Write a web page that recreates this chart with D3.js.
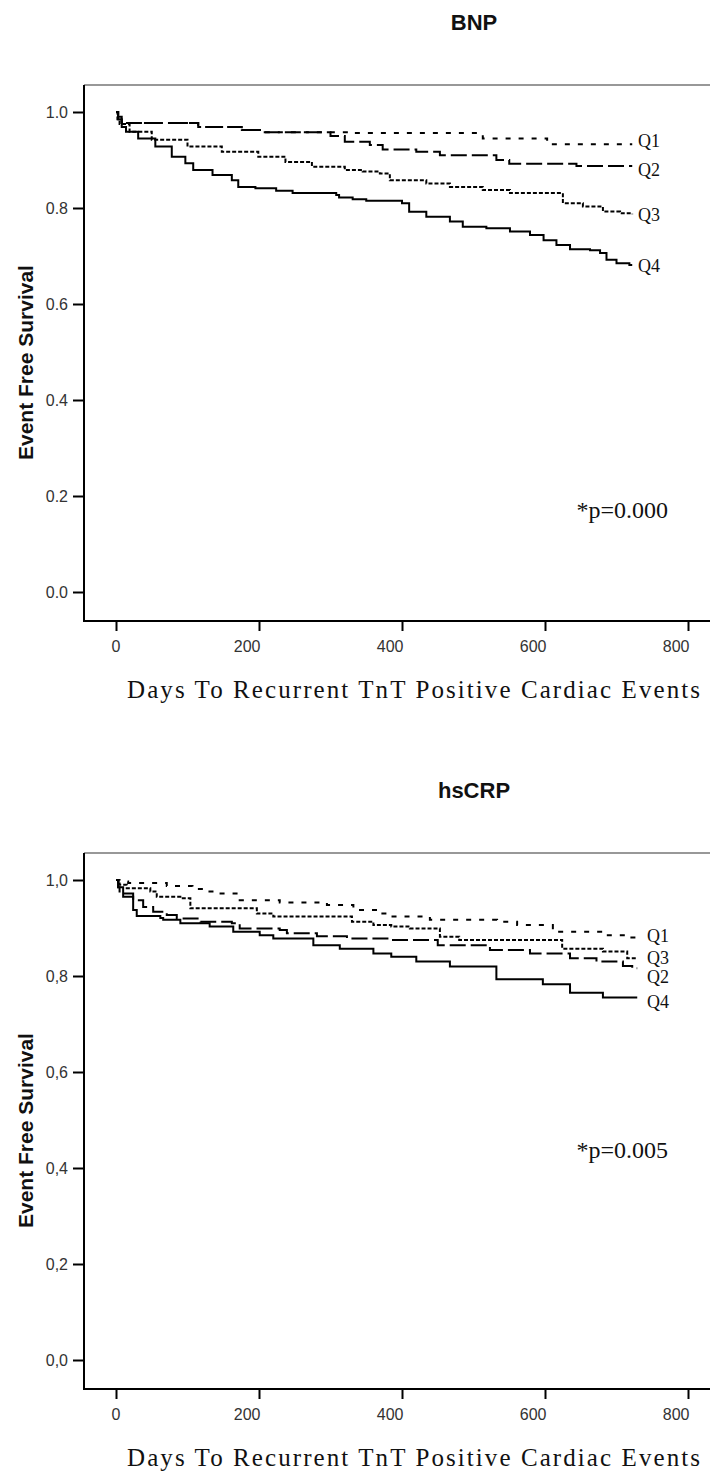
<!DOCTYPE html>
<html><head><meta charset="utf-8">
<script src="https://cdn.jsdelivr.net/npm/d3@7/dist/d3.min.js"></script>
<style>body{margin:0;background:#fff}svg{display:block}</style>
</head><body>
<svg id="c" width="710" height="1475"></svg>
<script>
// ---- data (day, event-free survival) ----
const seriesNames = ["Q1", "Q2", "Q3", "Q4"];

const bnpQ1 = [[0,1],[3,0.99],[8,0.977],[115,0.969],[176,0.9625],[208,0.958],[330,0.956],[513,0.945],[603,0.933],[722,0.933]];
const bnpQ2 = [[0,1],[3,0.99],[8,0.977],[115,0.969],[176,0.9625],[208,0.958],[300,0.95],[320,0.938],[355,0.931],[373,0.922],[420,0.917],[453,0.91],[532,0.9],[550,0.892],[644,0.8875],[722,0.8875]];
const bnpQ3 = [[0,1],[2,0.985],[5,0.975],[19,0.959],[50,0.942],[100,0.928],[148,0.917],[199,0.907],[237,0.896],[274,0.886],[320,0.879],[345,0.876],[369,0.872],[383,0.858],[434,0.851],[467,0.844],[513,0.8375],[551,0.831],[625,0.81],[653,0.803],[681,0.7925],[705,0.789],[722,0.787]];
const bnpQ4 = [[0,1],[3,0.985],[8,0.969],[14,0.959],[31,0.945],[55,0.928],[78,0.907],[97,0.893],[108,0.879],[135,0.869],[162,0.858],[171,0.844],[195,0.841],[224,0.836],[247,0.831],[308,0.827],[312,0.822],[331,0.818],[350,0.815],[400,0.81],[410,0.792],[434,0.782],[467,0.772],[485,0.761],[518,0.758],[551,0.751],[579,0.744],[598,0.733],[616,0.723],[635,0.714],[663,0.712],[677,0.706],[686,0.692],[700,0.685],[718,0.681],[722,0.681]];

const crpQ1 = [[0,1],[3,0.997],[17,0.994],[71,0.9875],[107,0.981],[127,0.976],[141,0.972],[173,0.958],[229,0.953],[295,0.948],[332,0.9375],[369,0.93],[385,0.924],[439,0.917],[533,0.913],[561,0.906],[611,0.892],[681,0.885],[715,0.88],[729,0.88]];
const crpQ2 = [[0,1],[3,0.985],[5,0.972],[24,0.958],[38,0.944],[52,0.934],[71,0.927],[85,0.92],[118,0.913],[162,0.91],[173,0.899],[229,0.896],[239,0.889],[281,0.883],[323,0.878],[383,0.875],[450,0.864],[523,0.854],[579,0.847],[635,0.837],[672,0.83],[709,0.821],[722,0.816],[729,0.816]];
const crpQ3 = [[0,1],[5,0.99],[15,0.983],[48,0.976],[57,0.965],[90,0.962],[104,0.941],[197,0.93],[220,0.924],[330,0.913],[360,0.906],[385,0.903],[411,0.899],[453,0.882],[480,0.875],[624,0.857],[681,0.851],[715,0.837],[729,0.837]];
const crpQ4 = [[0,1],[3,0.985],[10,0.965],[24,0.9375],[29,0.925],[62,0.921],[66,0.917],[90,0.91],[131,0.903],[164,0.892],[201,0.885],[220,0.878],[276,0.864],[313,0.857],[360,0.847],[385,0.84],[420,0.83],[467,0.82],[532,0.793],[597,0.783],[635,0.765],[681,0.755],[729,0.755]];

const xTicks = [0, 200, 400, 600, 800];
const yTicks = [0, 0.2, 0.4, 0.6, 0.8, 1.0];
const bnpYTickLabels = ["0.0", "0.2", "0.4", "0.6", "0.8", "1.0"];
const crpYTickLabels = ["0,0", "0,2", "0,4", "0,6", "0,8", "1,0"];
const panelTitles = ["BNP", "hsCRP"];
const pValueLabels = ["*p=0.000", "*p=0.005"];
const xAxisTitle = "Days To Recurrent TnT Positive Cardiac Events";
const yAxisTitle = "Event Free Survival";

// ---- styles ----
const dashStyles = {Q1: "5,8", Q2: "16,5", Q3: "4,2", Q4: null};
const SANS = "'Liberation Sans', Arial, sans-serif";
const SERIF = "'Liberation Serif', 'Times New Roman', serif";

const svg = d3.select("#c");

function drawPanel(oy, title, series, yLabels, pText, pBaseline, labelX, labelDy) {
  const g = svg.append("g").attr("transform", `translate(0,${oy})`);
  const x = d3.scaleLinear().domain([0, 800]).range([116, 688]);
  const y = d3.scaleLinear().domain([0, 1]).range([592, 112]);

  // title
  g.append("text").attr("x", 474).attr("y", 30).attr("text-anchor", "middle")
    .attr("font-family", SANS).attr("font-weight", "bold").attr("font-size", 22)
    .attr("fill", "#111").text(title);

  // frame
  g.append("line").attr("x1", 84).attr("x2", 712).attr("y1", 85).attr("y2", 85)
    .attr("stroke", "#333").attr("stroke-width", 1.2);
  g.append("line").attr("x1", 84).attr("x2", 84).attr("y1", 85).attr("y2", 621)
    .attr("stroke", "#000").attr("stroke-width", 2);
  g.append("line").attr("x1", 83).attr("x2", 712).attr("y1", 621).attr("y2", 621)
    .attr("stroke", "#000").attr("stroke-width", 2);

  // y axis
  const ya = g.append("g").attr("transform", "translate(84,0)")
    .call(d3.axisLeft(y).tickValues(yTicks).tickFormat((d, i) => yLabels[i]).tickSize(11).tickPadding(5));
  ya.select(".domain").remove();
  ya.selectAll(".tick line").attr("stroke", "#000").attr("stroke-width", 2);
  ya.selectAll(".tick text").attr("font-family", SANS).attr("font-size", 16).attr("fill", "#333");

  // x axis
  const xa = g.append("g").attr("transform", "translate(0,621)")
    .call(d3.axisBottom(x).tickValues(xTicks).tickFormat(d3.format("d")).tickSize(10).tickPadding(10));
  xa.select(".domain").remove();
  xa.selectAll(".tick line").attr("stroke", "#000").attr("stroke-width", 2);
  xa.selectAll(".tick text").attr("font-family", SANS).attr("font-size", 16).attr("fill", "#333")
    .attr("text-anchor", "end").attr("x", d => d === 0 ? 4 : 1);

  // axis titles
  g.append("text").attr("x", 127).attr("y", 698)
    .attr("font-family", SERIF).attr("font-size", 25).attr("fill", "#111")
    .attr("textLength", 573).attr("lengthAdjust", "spacing").text(xAxisTitle);
  g.append("text").attr("transform", "translate(33,460) rotate(-90)")
    .attr("font-family", SANS).attr("font-weight", "bold").attr("font-size", 21)
    .attr("fill", "#111").text(yAxisTitle);

  // curves
  const line = d3.line().x(d => x(d[0])).y(d => y(d[1])).curve(d3.curveStepAfter);
  series.forEach((s, i) => {
    const name = seriesNames[i];
    const p = g.append("path").attr("d", line(s)).attr("fill", "none")
      .attr("stroke", "#000").attr("stroke-width", 2);
    if (dashStyles[name]) p.attr("stroke-dasharray", dashStyles[name]);
    const last = s[s.length - 1];
    g.append("text").attr("x", labelX).attr("y", y(last[1]) + labelDy[i])
      .attr("dominant-baseline", "central")
      .attr("font-family", SERIF).attr("font-size", 18).attr("fill", "#111").text(name);
  });

  // p value
  g.append("text").attr("x", 668).attr("y", pBaseline).attr("text-anchor", "end")
    .attr("font-family", SERIF).attr("font-size", 24).attr("fill", "#111").text(pText);
}

drawPanel(0, panelTitles[0], [bnpQ1, bnpQ2, bnpQ3, bnpQ4], bnpYTickLabels, pValueLabels[0], 518, 638, [-3, 4, 1, 1]);
drawPanel(768, panelTitles[1], [crpQ1, crpQ2, crpQ3, crpQ4], crpYTickLabels, pValueLabels[1], 390, 647, [-2, 9, 0, 4]);
</script>
</body></html>
